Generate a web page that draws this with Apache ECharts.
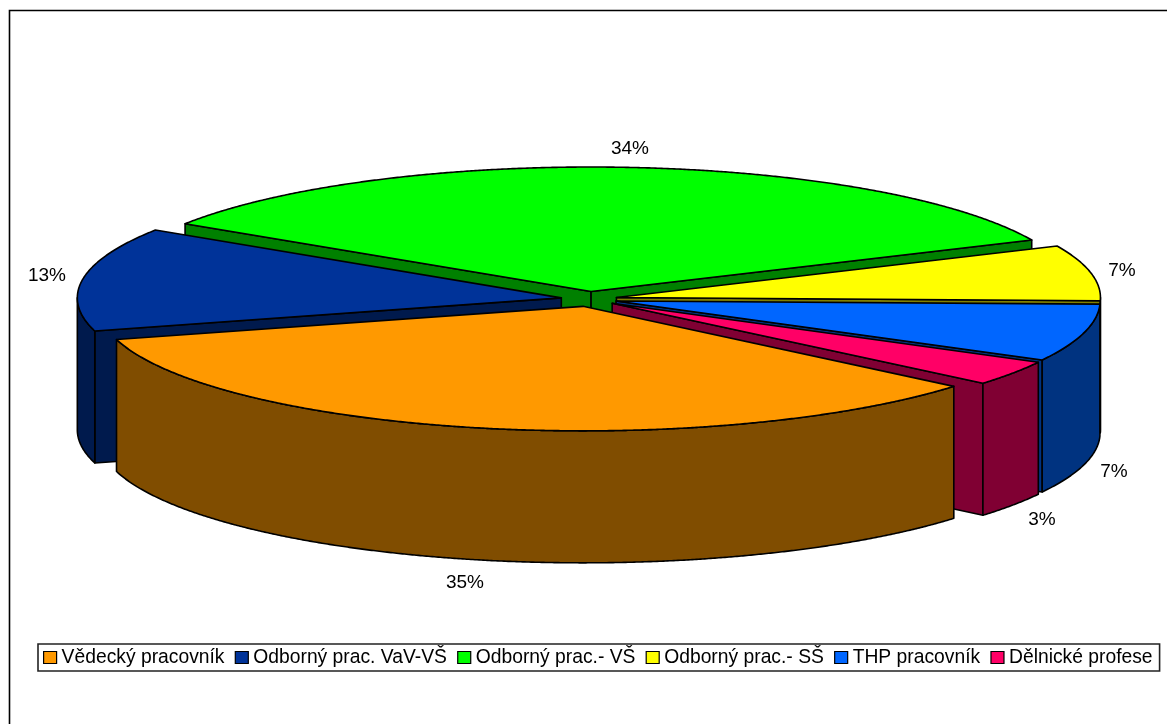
<!DOCTYPE html>
<html>
<head>
<meta charset="utf-8">
<style>html,body{margin:0;padding:0;background:#fff;overflow:hidden}#chart{width:1167px;height:724px}</style>
<script src="https://cdn.jsdelivr.net/npm/echarts@6/dist/echarts.min.js"></script>
</head>
<body>
<div id="chart"></div>
<script>
// Data
const categories = ['Vědecký pracovník', 'Odborný prac. VaV-VŠ', 'Odborný prac.- VŠ', 'Odborný prac.- SŠ', 'THP pracovník', 'Dělnické profese'];
const shares = [34.6, 13.45, 34.05, 7.2, 7.45, 3.25];

// Styles
const topColors = ['#FF9900', '#003399', '#00FF00', '#FFFF00', '#0066FF', '#FF0066'];
const wallColors = ['#804D00', '#001A4D', '#008000', '#808000', '#003380', '#800033'];

// Layout of the tilted pie
const CX = 589, CY = 299, RX = 484, RY = 124.5, DEPTH = 132, EX = 28, EY = 7.5, FIRST_ANGLE = 40;
const labelAnchors = [[465, 583], [47, 276], [630, 148.5], [1122, 271], [1114, 472], [1042, 519.5]];
const zByCategory = [6, 3, 1, 2, 4, 5];
const FONT = '"Liberation Sans", Arial, sans-serif';
const rad = function (d) { return d * Math.PI / 180; };
const total = shares.reduce(function (a, b) { return a + b; }, 0);

function sliceShapes(index, value) {
  let before = 0;
  for (let i = 0; i < index; i++) before += shares[i];
  const a0 = FIRST_ANGLE + before / total * 360;
  const a1 = a0 + value / total * 360;
  const mid = rad((a0 + a1) / 2);
  const ax = CX + EX * Math.cos(mid), ay = CY + EY * Math.sin(mid);
  const rim = function (d, drop) { return [ax + RX * Math.cos(rad(d)), ay + RY * Math.sin(rad(d)) + (drop || 0)]; };
  const arc = function (from, to, drop) {
    const pts = [], n = Math.max(2, Math.ceil(Math.abs(to - from) * 4));
    for (let k = 0; k <= n; k++) pts.push(rim(from + (to - from) * k / n, drop));
    return pts;
  };
  const poly = function (points, fill) {
    return { type: 'polygon', shape: { points: points },
      style: { fill: fill, stroke: '#000', lineWidth: 1.6, lineJoin: 'round' } };
  };
  const wall = wallColors[index], children = [];
  const edge = function (d) {
    const p = rim(d);
    return poly([[ax, ay], p, [p[0], p[1] + DEPTH], [ax, ay + DEPTH]], wall);
  };
  if (Math.cos(rad(a0)) < 0) children.push(edge(a0));
  if (Math.cos(rad(a1)) > 0) children.push(edge(a1));
  // front-facing part of the rim, in windows where sin(angle) > 0
  [[0, 180], [360, 540]].forEach(function (w) {
    const f = Math.max(a0, w[0]), t = Math.min(a1, w[1]);
    if (t > f) children.push(poly(arc(f, t, 0).concat(arc(t, f, DEPTH)), wall));
  });
  children.push(poly([[ax, ay]].concat(arc(a0, a1, 0)), topColors[index]));
  children.push({ type: 'text', style: {
    x: labelAnchors[index][0], y: labelAnchors[index][1], text: Math.round(value) + '%',
    fill: '#000', font: '19px ' + FONT, align: 'center', verticalAlign: 'middle' } });
  return { type: 'group', children: children };
}

const series = categories.map(function (name, i) {
  return {
    type: 'custom', name: name, coordinateSystem: 'none', z: zByCategory[i],
    data: [[shares[i]]], silent: true, itemStyle: { color: topColors[i] },
    renderItem: function (params, api) { return sliceShapes(params.seriesIndex, api.value(0)); }
  };
});

const chart = echarts.init(document.getElementById('chart'), null, { renderer: 'canvas' });
chart.setOption({
  animation: false,
  backgroundColor: '#fff',
  graphic: [{ type: 'rect', silent: true, z: 0,
    shape: { x: 9.5, y: 10.5, width: 1300, height: 900 },
    style: { fill: 'none', stroke: '#000', lineWidth: 1.6 } }],
  legend: {
    left: 38, top: 644, orient: 'horizontal', selectedMode: false,
    padding: [4, 7, 4, 5], itemGap: 10.2, itemWidth: 13, itemHeight: 12,
    borderColor: '#222', borderWidth: 1.6, backgroundColor: '#fff',
    itemStyle: { borderColor: '#000', borderWidth: 1.2 },
    textStyle: { fontFamily: FONT, fontSize: 19.3, color: '#000' },
    data: categories.map(function (n) { return { name: n, icon: 'rect' }; })
  },
  series: series
});
</script>
</body>
</html>
